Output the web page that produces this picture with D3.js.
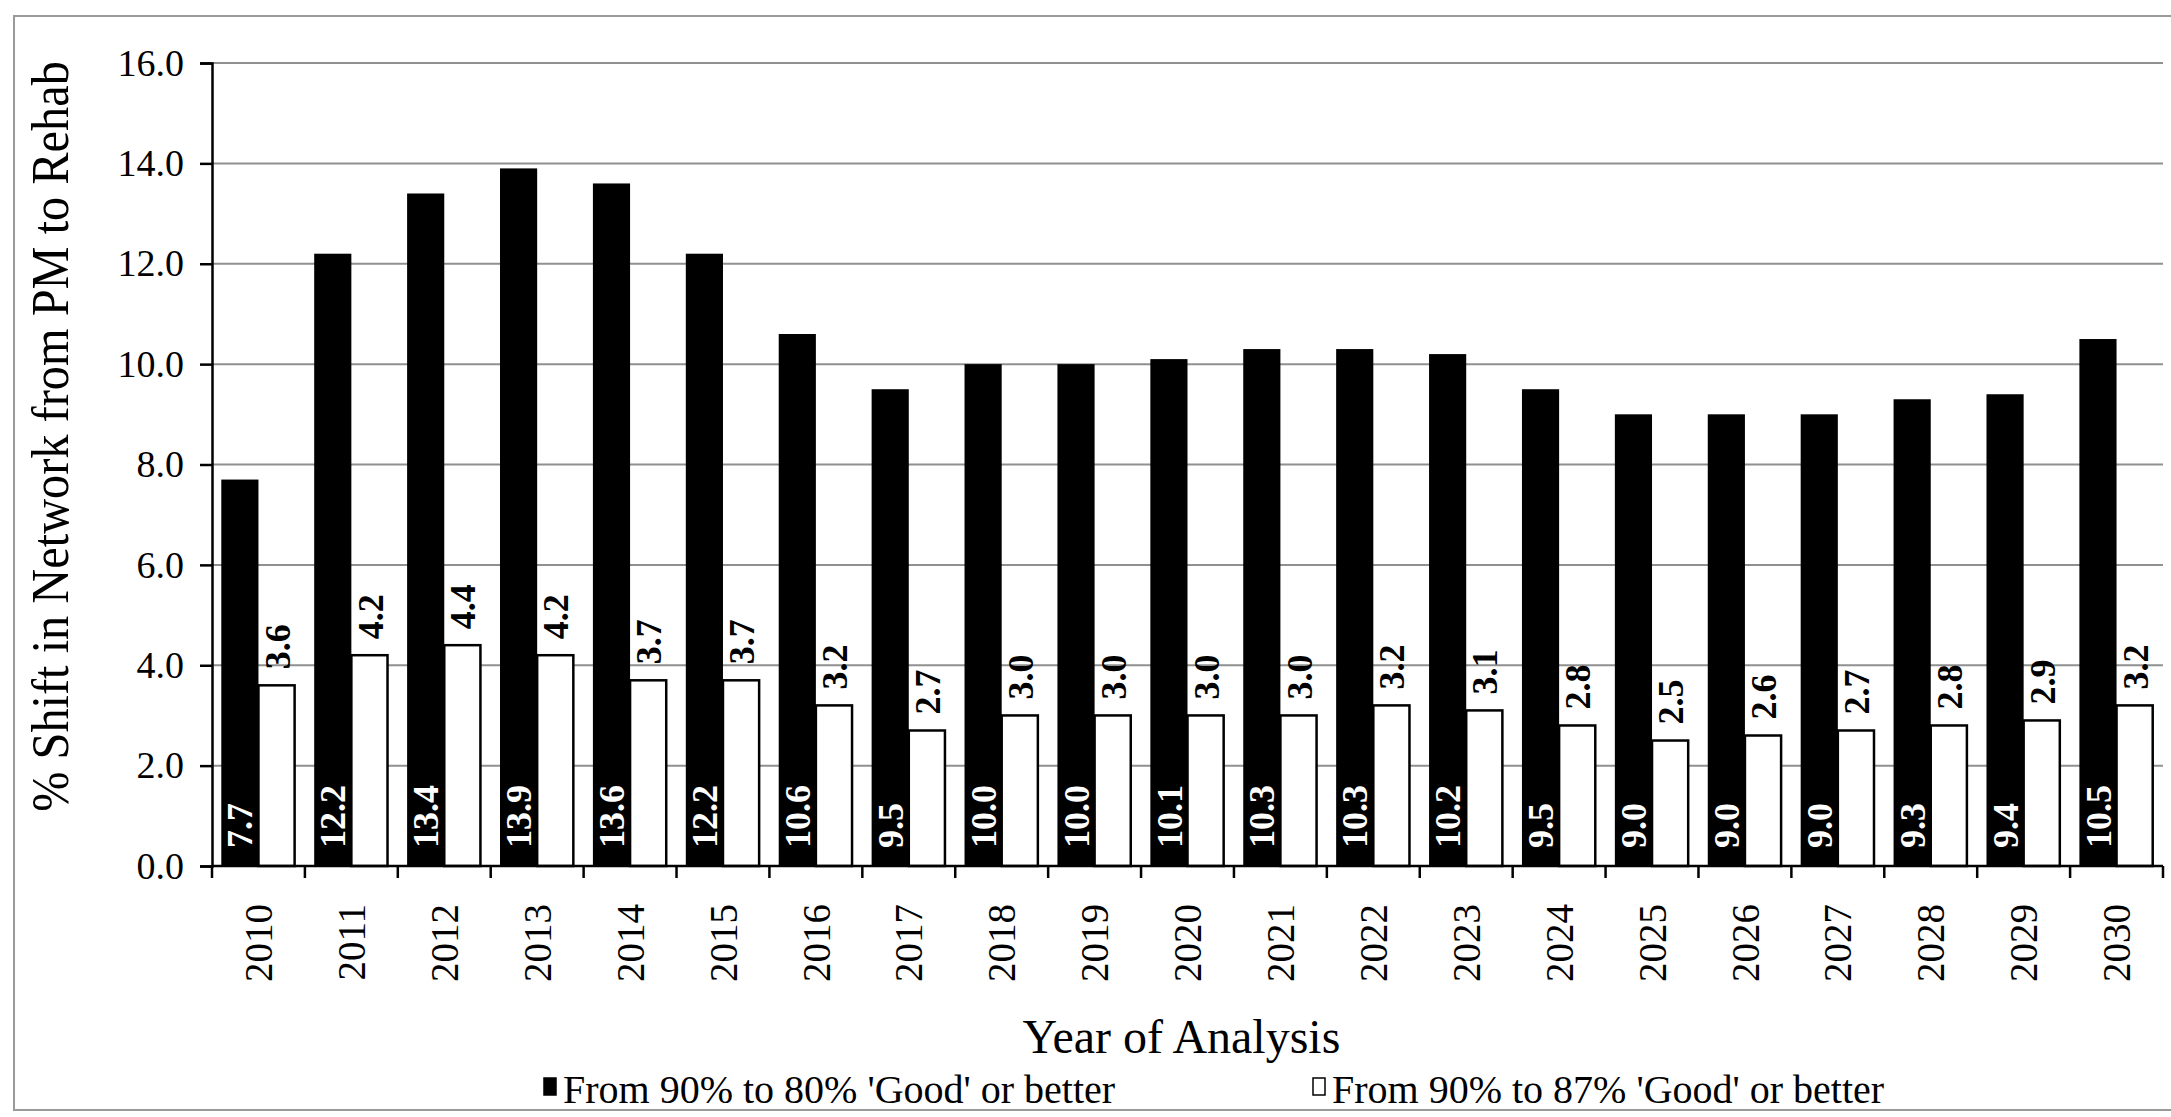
<!DOCTYPE html>
<html>
<head>
<meta charset="utf-8">
<script src="https://cdn.jsdelivr.net/npm/d3@7"></script>
<style>
  body { margin: 0; background: #fff; }
  svg text { font-family: "Liberation Serif", "Times New Roman", serif; }
</style>
</head>
<body>
<svg id="svg" width="2171" height="1117"></svg>
<script>
const years = ["2010","2011","2012","2013","2014","2015","2016","2017","2018","2019","2020",
  "2021","2022","2023","2024","2025","2026","2027","2028","2029","2030"]
const to80 = [7.7,12.2,13.4,13.9,13.6,12.2,10.6,9.5,10.0,10.0,10.1,10.3,10.3,10.2,9.5,9.0,9.0,9.0,9.3,9.4,10.5]
const to87 = [3.6,4.2,4.4,4.2,3.7,3.7,3.2,2.7,3.0,3.0,3.0,3.0,3.2,3.1,2.8,2.5,2.6,2.7,2.8,2.9,3.2]
const yTicks = [0,2,4,6,8,10,12,14,16]
const seriesNames = ["From 90% to 80% 'Good' or better", "From 90% to 87% 'Good' or better"]

const svg = d3.select("#svg")
const plotL = 212, plotR = 2163, plotT = 63, plotB = 866

// outer frame
svg.append("rect").attr("x", 14).attr("y", 16).attr("width", 2200).attr("height", 1094)
  .attr("fill", "none").attr("stroke", "#9a9a9a").attr("stroke-width", 2)

const x = d3.scaleBand(years, [plotL, plotR]).paddingInner(0.2).paddingOuter(0.1)
const xSub = d3.scaleBand([0, 1], [0, x.bandwidth()])
const y = d3.scaleLinear([0, 16], [plotB, plotT])

// gridlines
svg.append("g").selectAll("line").data(yTicks.filter(d => d > 0)).join("line")
  .attr("x1", plotL).attr("x2", plotR).attr("y1", d => y(d)).attr("y2", d => y(d))
  .attr("stroke", "#909090").attr("stroke-width", 2)

const groups = svg.append("g").selectAll("g").data(years).join("g")
  .attr("transform", d => `translate(${x(d)},0)`)

groups.append("rect").attr("x", xSub(0)).attr("width", xSub.bandwidth())
  .attr("y", (_, i) => y(to80[i])).attr("height", (_, i) => plotB - y(to80[i]))
  .attr("fill", "#000")
groups.append("rect").attr("x", xSub(1)).attr("width", xSub.bandwidth() - 1)
  .attr("y", (_, i) => y(to87[i])).attr("height", (_, i) => plotB - y(to87[i]))
  .attr("fill", "#fff").attr("stroke", "#000").attr("stroke-width", 2.5)

// value labels
groups.append("text")
  .attr("transform", () => `translate(${xSub(0) + xSub.bandwidth() / 2},${plotB - 18}) rotate(-90)`)
  .attr("dy", "0.35em").attr("fill", "#fff").attr("font-weight", "bold").attr("font-size", 36)
  .text((_, i) => to80[i].toFixed(1))
groups.append("text")
  .attr("transform", (_, i) => `translate(${xSub(1) + xSub.bandwidth() / 2},${y(to87[i]) - 16}) rotate(-90)`)
  .attr("dy", "0.35em").attr("fill", "#000").attr("font-weight", "bold").attr("font-size", 36)
  .text((_, i) => to87[i].toFixed(1))

// y axis
const yAxis = svg.append("g").attr("transform", `translate(${plotL},0)`)
  .call(d3.axisLeft(y).tickValues(yTicks).tickFormat(d3.format(".1f")).tickSize(12).tickPadding(16))
yAxis.select(".domain").attr("stroke", "#000").attr("stroke-width", 2.5)
yAxis.selectAll(".tick line").attr("stroke", "#000").attr("stroke-width", 2.5)
yAxis.selectAll(".tick text").attr("font-size", 38).attr("fill", "#000")
  .style("font-family", "'Liberation Serif', serif")

// x axis: ticks at category boundaries
const xAxisG = svg.append("g")
xAxisG.append("line").attr("x1", plotL).attr("x2", plotR).attr("y1", plotB).attr("y2", plotB)
  .attr("stroke", "#000").attr("stroke-width", 2.5)
const bounds = [plotL].concat(years.slice(1).map(d => x(d) - x.step() * x.paddingInner() / 2), [plotR])
xAxisG.selectAll(".xt").data(bounds)
  .join("line").attr("class", "xt")
  .attr("x1", d => d).attr("x2", d => d).attr("y1", plotB).attr("y2", plotB + 12)
  .attr("stroke", "#000").attr("stroke-width", 2.5)
xAxisG.selectAll("text").data(years).join("text")
  .attr("transform", d => `translate(${x(d) + x.bandwidth() / 2},904) rotate(-90)`)
  .attr("text-anchor", "end").attr("dy", "0.35em").attr("font-size", 39).text(d => d)

// axis titles
svg.append("text").attr("transform", `translate(50,${(plotT + plotB) / 2 - 28}) rotate(-90) scale(0.93,1)`)
  .attr("text-anchor", "middle").attr("dy", "0.35em").attr("font-size", 52)
  .text("% Shift in Network from PM to Rehab")
svg.append("text").attr("x", (plotL + plotR) / 2 - 6).attr("y", 1053).attr("text-anchor", "middle")
  .attr("font-size", 48).text("Year of Analysis")

// legend
const legendX = [544, 1313]
const legend = svg.append("g").selectAll("g").data(seriesNames).join("g")
  .attr("transform", (_, i) => `translate(${legendX[i]},1078)`)
legend.append("rect").attr("width", 12).attr("height", 17)
  .attr("fill", (_, i) => i === 0 ? "#000" : "#fff").attr("stroke", "#000").attr("stroke-width", 1.5)
legend.append("text").attr("x", 19).attr("y", 25).attr("font-size", 40).text(d => d)
</script>
</body>
</html>
